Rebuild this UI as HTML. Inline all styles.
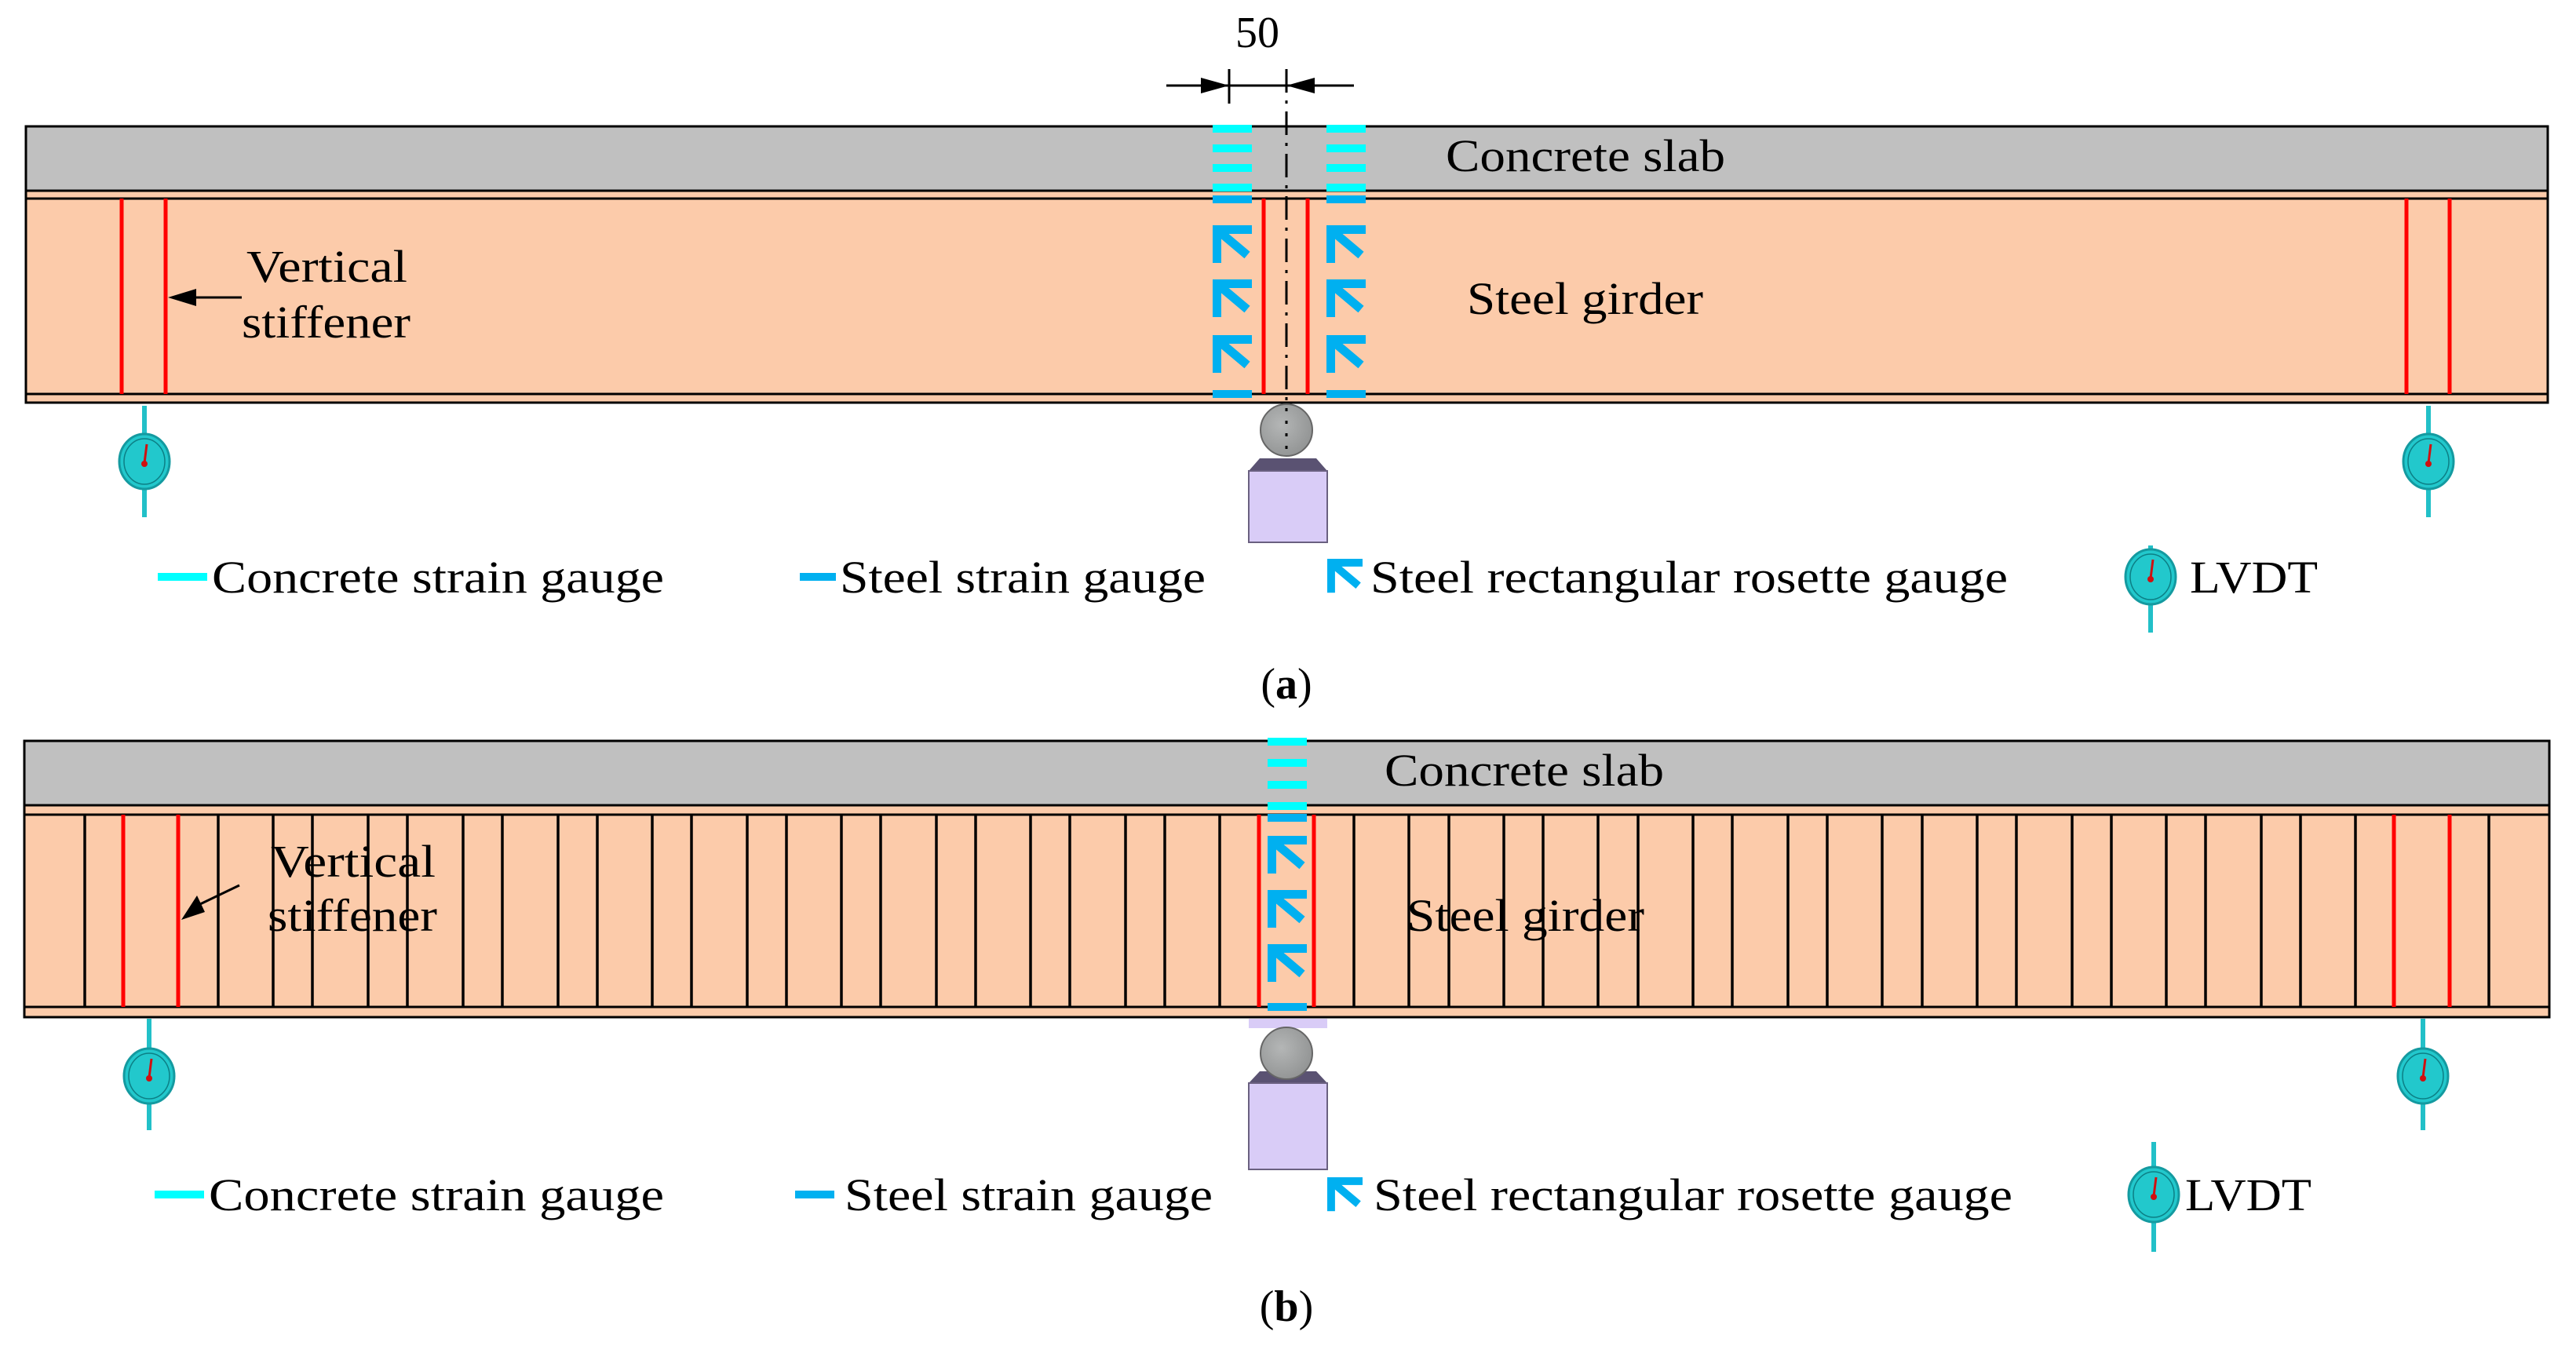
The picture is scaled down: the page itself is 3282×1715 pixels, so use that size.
<!DOCTYPE html>
<html><head><meta charset="utf-8"><style>
html,body{margin:0;padding:0;background:#fff;}
svg{display:block;}
text{font-family:"Liberation Serif",serif;fill:#000;}
</style></head><body>
<svg width="3282" height="1715" viewBox="0 0 3282 1715" xmlns="http://www.w3.org/2000/svg">
<defs>
 <g id="ros">
  <rect x="0" y="0" width="50" height="11" fill="#00b0f0"/>
  <rect x="0" y="0" width="11" height="48" fill="#00b0f0"/>
  <line x1="6" y1="6" x2="44" y2="38" stroke="#00b0f0" stroke-width="11"/>
 </g>
 <g id="lvdt">
  <ellipse cx="0" cy="0" rx="32" ry="35" fill="#22c8cc" stroke="#149aa0" stroke-width="3"/>
  <ellipse cx="0" cy="0" rx="26" ry="29" fill="none" stroke="#0c7f85" stroke-width="1.5"/>
  <line x1="0" y1="2" x2="3" y2="-22" stroke="#d01010" stroke-width="3"/>
  <circle cx="0" cy="3" r="4" fill="#d01010"/>
 </g>
 <radialGradient id="rg" cx="0.4" cy="0.4" r="0.7"><stop offset="0" stop-color="#b4b6b6"/><stop offset="1" stop-color="#8f9191"/></radialGradient>
</defs>

<!-- ===== (a) ===== -->
<text x="1602" y="60" font-size="56" text-anchor="middle">50</text>
<line x1="1486" y1="109" x2="1725" y2="109" stroke="#000" stroke-width="3"/>
<line x1="1566" y1="88" x2="1566" y2="132" stroke="#000" stroke-width="3"/>
<polygon points="1566,109 1530,99 1530,119" fill="#000"/>
<polygon points="1639,109 1675,99 1675,119" fill="#000"/>

<rect x="33" y="161" width="3213" height="82" fill="#c0c0c0" stroke="#000" stroke-width="3"/>
<rect x="33" y="243" width="3213" height="270" fill="#fccbaa" stroke="#000" stroke-width="3"/>
<line x1="33" y1="253" x2="3246" y2="253" stroke="#000" stroke-width="3"/>
<line x1="33" y1="502" x2="3246" y2="502" stroke="#000" stroke-width="3"/>
<g stroke="#ff0000" stroke-width="5">
 <line x1="155" y1="253" x2="155" y2="502"/><line x1="211" y1="253" x2="211" y2="502"/>
 <line x1="1610" y1="253" x2="1610" y2="502"/><line x1="1666" y1="253" x2="1666" y2="502"/>
 <line x1="3066" y1="253" x2="3066" y2="502"/><line x1="3121" y1="253" x2="3121" y2="502"/>
</g>
<line x1="1639" y1="88" x2="1639" y2="560" stroke="#000" stroke-width="3" stroke-dasharray="30 10 4 10"/>
<g fill="#00ffff">
 <rect x="1545" y="159" width="50" height="10"/><rect x="1545" y="184" width="50" height="10"/>
 <rect x="1545" y="209" width="50" height="10"/><rect x="1545" y="234" width="50" height="10"/>
 <rect x="1690" y="159" width="50" height="10"/><rect x="1690" y="184" width="50" height="10"/>
 <rect x="1690" y="209" width="50" height="10"/><rect x="1690" y="234" width="50" height="10"/>
</g>
<g fill="#00b0f0">
 <rect x="1545" y="249" width="50" height="10"/><rect x="1690" y="249" width="50" height="10"/>
 <rect x="1545" y="497" width="50" height="10"/><rect x="1690" y="497" width="50" height="10"/>
</g>
<use href="#ros" x="1545" y="287"/><use href="#ros" x="1545" y="356"/><use href="#ros" x="1545" y="427"/>
<use href="#ros" x="1690" y="287"/><use href="#ros" x="1690" y="356"/><use href="#ros" x="1690" y="427"/>

<text x="1842" y="218" font-size="58" textLength="356" lengthAdjust="spacingAndGlyphs">Concrete slab</text>
<text x="1869" y="400" font-size="58" textLength="301" lengthAdjust="spacingAndGlyphs">Steel girder</text>
<text x="314" y="359" font-size="58" textLength="205" lengthAdjust="spacingAndGlyphs">Vertical</text>
<text x="308" y="430" font-size="58" textLength="215" lengthAdjust="spacingAndGlyphs">stiffener</text>
<line x1="308" y1="379" x2="245" y2="379" stroke="#000" stroke-width="3"/>
<polygon points="214,379 250,368 250,390" fill="#000"/>

<!-- support a -->
<polygon points="1591,600 1605,584 1677,584 1691,600" fill="#5a5272"/>
<rect x="1591" y="600" width="100" height="91" fill="#d9ccf7" stroke="#6a6080" stroke-width="2"/>
<circle cx="1639" cy="548" r="33" fill="url(#rg)" stroke="#666" stroke-width="2"/>
<line x1="1639" y1="520" x2="1639" y2="575" stroke="#000" stroke-width="3" stroke-dasharray="4 12"/>

<!-- LVDT a -->
<line x1="184" y1="517" x2="184" y2="659" stroke="#22c0c8" stroke-width="6"/>
<use href="#lvdt" x="184" y="588"/>
<line x1="3094" y1="517" x2="3094" y2="659" stroke="#22c0c8" stroke-width="6"/>
<use href="#lvdt" x="3094" y="588"/>

<!-- legend a -->
<rect x="201" y="730" width="63" height="10" fill="#00ffff"/>
<text x="270" y="755" font-size="58" textLength="576" lengthAdjust="spacingAndGlyphs">Concrete strain gauge</text>
<rect x="1019" y="730" width="46" height="10" fill="#00b0f0"/>
<text x="1070" y="755" font-size="58" textLength="466" lengthAdjust="spacingAndGlyphs">Steel strain gauge</text>
<use href="#ros" x="1691" y="712" transform="translate(1691 712) scale(0.9) translate(-1691 -712)"/>
<text x="1746" y="755" font-size="58" textLength="812" lengthAdjust="spacingAndGlyphs">Steel rectangular rosette gauge</text>
<line x1="2740" y1="695" x2="2740" y2="806" stroke="#22c0c8" stroke-width="6"/>
<use href="#lvdt" x="2740" y="735"/>
<text x="2790" y="755" font-size="58" textLength="163" lengthAdjust="spacingAndGlyphs">LVDT</text>
<text x="1639" y="890" font-size="56" text-anchor="middle">(<tspan font-weight="bold">a</tspan>)</text>

<!-- ===== (b) ===== -->
<rect x="31" y="944" width="3217" height="82" fill="#c0c0c0" stroke="#000" stroke-width="3"/>
<rect x="31" y="1026" width="3217" height="270" fill="#fccbaa" stroke="#000" stroke-width="3"/>
<line x1="31" y1="1038" x2="3248" y2="1038" stroke="#000" stroke-width="3"/>
<line x1="31" y1="1283" x2="3248" y2="1283" stroke="#000" stroke-width="3"/>
<g stroke="#000" stroke-width="3.5">
 <line x1="108" y1="1038" x2="108" y2="1283"/><line x1="278" y1="1038" x2="278" y2="1283"/>
 <line x1="348" y1="1038" x2="348" y2="1283"/><line x1="398" y1="1038" x2="398" y2="1283"/>
 <line x1="469" y1="1038" x2="469" y2="1283"/><line x1="519" y1="1038" x2="519" y2="1283"/>
 <line x1="590" y1="1038" x2="590" y2="1283"/><line x1="640" y1="1038" x2="640" y2="1283"/>
 <line x1="711" y1="1038" x2="711" y2="1283"/><line x1="761" y1="1038" x2="761" y2="1283"/>
 <line x1="831" y1="1038" x2="831" y2="1283"/><line x1="881" y1="1038" x2="881" y2="1283"/>
 <line x1="952" y1="1038" x2="952" y2="1283"/><line x1="1002" y1="1038" x2="1002" y2="1283"/>
 <line x1="1072" y1="1038" x2="1072" y2="1283"/><line x1="1122" y1="1038" x2="1122" y2="1283"/>
 <line x1="1193" y1="1038" x2="1193" y2="1283"/><line x1="1243" y1="1038" x2="1243" y2="1283"/>
 <line x1="1313" y1="1038" x2="1313" y2="1283"/><line x1="1363" y1="1038" x2="1363" y2="1283"/>
 <line x1="1434" y1="1038" x2="1434" y2="1283"/><line x1="1484" y1="1038" x2="1484" y2="1283"/>
 <line x1="1554" y1="1038" x2="1554" y2="1283"/>
 <line x1="1725" y1="1038" x2="1725" y2="1283"/><line x1="1795" y1="1038" x2="1795" y2="1283"/>
 <line x1="1846" y1="1038" x2="1846" y2="1283"/><line x1="1916" y1="1038" x2="1916" y2="1283"/>
 <line x1="1966" y1="1038" x2="1966" y2="1283"/><line x1="2036" y1="1038" x2="2036" y2="1283"/>
 <line x1="2087" y1="1038" x2="2087" y2="1283"/><line x1="2157" y1="1038" x2="2157" y2="1283"/>
 <line x1="2207" y1="1038" x2="2207" y2="1283"/><line x1="2278" y1="1038" x2="2278" y2="1283"/>
 <line x1="2328" y1="1038" x2="2328" y2="1283"/><line x1="2398" y1="1038" x2="2398" y2="1283"/>
 <line x1="2449" y1="1038" x2="2449" y2="1283"/><line x1="2519" y1="1038" x2="2519" y2="1283"/>
 <line x1="2569" y1="1038" x2="2569" y2="1283"/><line x1="2640" y1="1038" x2="2640" y2="1283"/>
 <line x1="2690" y1="1038" x2="2690" y2="1283"/><line x1="2760" y1="1038" x2="2760" y2="1283"/>
 <line x1="2810" y1="1038" x2="2810" y2="1283"/><line x1="2881" y1="1038" x2="2881" y2="1283"/>
 <line x1="2931" y1="1038" x2="2931" y2="1283"/><line x1="3001" y1="1038" x2="3001" y2="1283"/>
 <line x1="3171" y1="1038" x2="3171" y2="1283"/>
</g>
<g stroke="#ff0000" stroke-width="5">
 <line x1="157" y1="1038" x2="157" y2="1283"/><line x1="227" y1="1038" x2="227" y2="1283"/>
 <line x1="1604" y1="1038" x2="1604" y2="1283"/><line x1="1674" y1="1038" x2="1674" y2="1283"/>
 <line x1="3050" y1="1038" x2="3050" y2="1283"/><line x1="3121" y1="1038" x2="3121" y2="1283"/>
</g>
<g fill="#00ffff">
 <rect x="1615" y="940" width="50" height="10"/><rect x="1615" y="967" width="50" height="10"/>
 <rect x="1615" y="995" width="50" height="10"/><rect x="1615" y="1022" width="50" height="10"/>
</g>
<g fill="#00b0f0">
 <rect x="1615" y="1037" width="50" height="10"/><rect x="1615" y="1278" width="50" height="10"/>
</g>
<use href="#ros" x="1615" y="1065"/><use href="#ros" x="1615" y="1134"/><use href="#ros" x="1615" y="1203"/>

<text x="1764" y="1001" font-size="58" textLength="356" lengthAdjust="spacingAndGlyphs">Concrete slab</text>
<text x="1792" y="1186" font-size="58" textLength="303" lengthAdjust="spacingAndGlyphs">Steel girder</text>
<text x="345" y="1117" font-size="58" textLength="210" lengthAdjust="spacingAndGlyphs">Vertical</text>
<text x="341" y="1186" font-size="58" textLength="216" lengthAdjust="spacingAndGlyphs">stiffener</text>
<line x1="305" y1="1128" x2="255" y2="1152" stroke="#000" stroke-width="3"/>
<polygon points="231,1172 251,1141 261,1162" fill="#000"/>

<!-- support b -->
<rect x="1591" y="1298" width="100" height="12" fill="#d9ccf7"/>
<polygon points="1591,1380 1605,1365 1677,1365 1691,1380" fill="#5a5272"/>
<rect x="1591" y="1380" width="100" height="110" fill="#d9ccf7" stroke="#6a6080" stroke-width="2"/>
<circle cx="1639" cy="1342" r="33" fill="url(#rg)" stroke="#666" stroke-width="2"/>

<!-- LVDT b -->
<line x1="190" y1="1298" x2="190" y2="1440" stroke="#22c0c8" stroke-width="6"/>
<use href="#lvdt" x="190" y="1371"/>
<line x1="3087" y1="1298" x2="3087" y2="1440" stroke="#22c0c8" stroke-width="6"/>
<use href="#lvdt" x="3087" y="1371"/>

<!-- legend b -->
<rect x="197" y="1517" width="63" height="10" fill="#00ffff"/>
<text x="266" y="1542" font-size="58" textLength="580" lengthAdjust="spacingAndGlyphs">Concrete strain gauge</text>
<rect x="1013" y="1517" width="50" height="10" fill="#00b0f0"/>
<text x="1076" y="1542" font-size="58" textLength="469" lengthAdjust="spacingAndGlyphs">Steel strain gauge</text>
<use href="#ros" x="1691" y="1500" transform="translate(1691 1500) scale(0.9) translate(-1691 -1500)"/>
<text x="1750" y="1542" font-size="58" textLength="814" lengthAdjust="spacingAndGlyphs">Steel rectangular rosette gauge</text>
<line x1="2744" y1="1455" x2="2744" y2="1595" stroke="#22c0c8" stroke-width="6"/>
<use href="#lvdt" x="2744" y="1522"/>
<text x="2784" y="1542" font-size="58" textLength="161" lengthAdjust="spacingAndGlyphs">LVDT</text>
<text x="1639" y="1683" font-size="56" text-anchor="middle">(<tspan font-weight="bold">b</tspan>)</text>
</svg>
</body></html>
